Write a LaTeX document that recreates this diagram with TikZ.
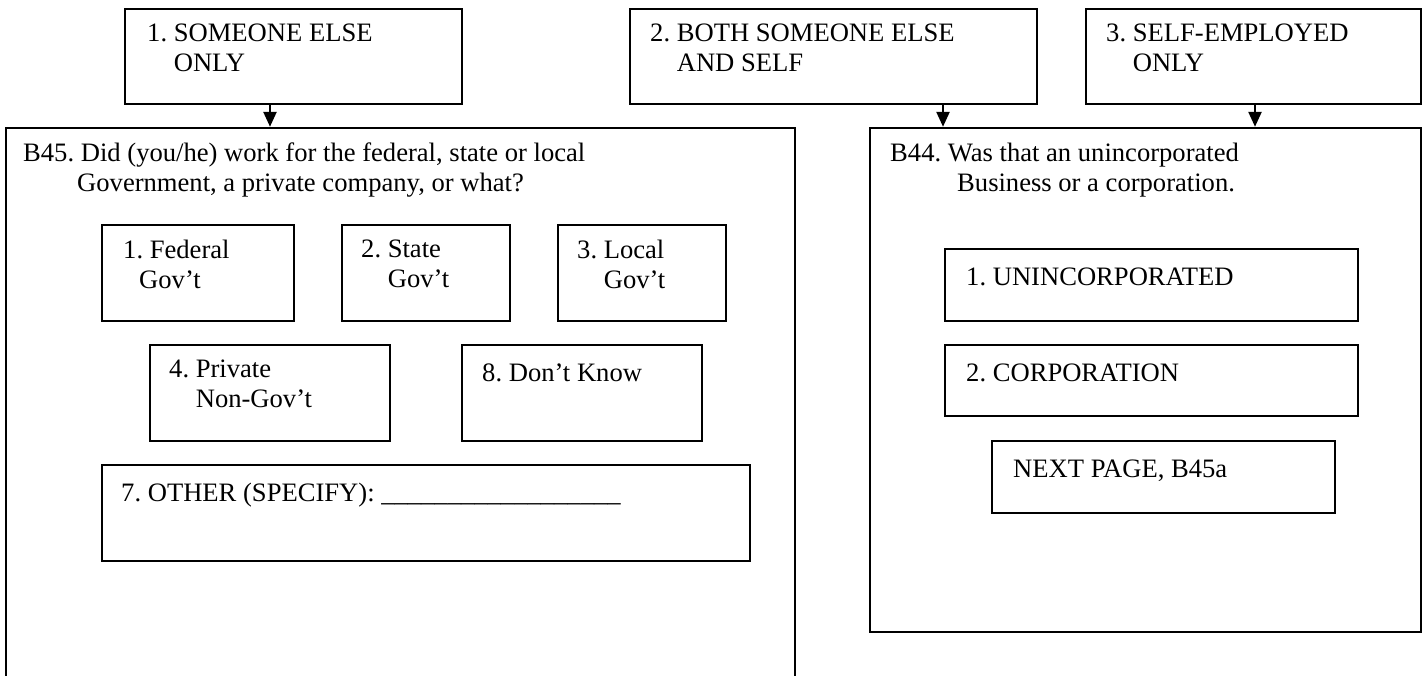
\documentclass[tikz,border=0pt]{standalone}
\usepackage{fontspec}
\setmainfont{Liberation Serif}
\usetikzlibrary{arrows.meta,fit,positioning}

\begin{document}
\begin{tikzpicture}[x=0.5pt,y=-0.5pt,
                box/.style = {draw, line width=1.2pt, inner sep=0pt},
                txt/.style = {anchor=north west, align=left, inner sep=0pt,
                              font=\fontsize{13.3}{15}\selectfont\frenchspacing, execute at begin node=\strut},
                arr/.style = {-{Triangle[width=6.5pt,length=7.5pt]}, line width=1.2pt}]
                \clip (0,0) rectangle (1424,675);
                % top answers
                \node[box, fit={(125,9) (462,104)}] (someone) {};
                \node[box, fit={(630,9) (1037,104)}] (both) {};
                \node[box, fit={(1086,9) (1421,104)}] (self) {};
                % B45 and B44
                \node[box, fit={(6,128) (795,700)}] (gov) {};
                \node[box, fit={(870,128) (1421,632)}] (corp) {};
                \node[box, fit={(102,225) (294,321)}] (federal) {};
                \node[box, fit={(342,225) (510,321)}] (state) {};
                \node[box, fit={(558,225) (726,321)}] (local) {};
                \node[box, fit={(150,345) (390,441)}] (private) {};
                \node[box, fit={(462,345) (702,441)}] (dontknow) {};
                \node[box, fit={(102,465) (750,561)}] (other) {};
                \node[box, fit={(945,249) (1358,321)}] (uninc) {};
                \node[box, fit={(945,345) (1358,416)}] (corporation) {};
                \node[box, fit={(992,441) (1335,513)}] (nextpage) {};
                % texts
                \node[txt] (someoneT) at ([shift={(23,16)}]someone.north west) {1. SOMEONE ELSE\\\phantom{1. }ONLY};
                \node[txt] (bothT) at ([shift={(21,16)}]both.north west) {2. BOTH SOMEONE ELSE\\\phantom{2. }AND SELF};
                \node[txt] (selfT) at ([shift={(21,16)}]self.north west) {3. SELF-EMPLOYED\\\phantom{3. }ONLY};
                \node[txt] (govT) at ([shift={(18,16)}]gov.north west) {B45. Did (you/he) work for the federal, state or local\\\hspace{27pt}Government, a private company, or what?};
                \node[txt] (corpT) at ([shift={(21,16)}]corp.north west) {B44. Was that an unincorporated\\\hspace{33.5pt}Business or a corporation.};
                \node[txt] (federalT) at ([shift={(22,16)}]federal.north west) {1. Federal\\\hspace{8pt}Gov’t};
                \node[txt] (stateT) at ([shift={(20,16)}]state.north west) {2. State\\\phantom{2. }Gov’t};
                \node[txt] (localT) at ([shift={(20,16)}]local.north west) {3. Local\\\phantom{3. }Gov’t};
                \node[txt] (privateT) at ([shift={(20,16)}]private.north west) {4. Private\\\phantom{4. }Non-Gov’t};
                \node[txt] (dontknowT) at ([shift={(21,16)}]dontknow.north west) {8. Don’t Know};
                \node[txt] (otherT) at ([shift={(20,16)}]other.north west) {7. OTHER (SPECIFY): \_\_\_\_\_\_\_\_\_\_\_\_\_\_\_\_\_\_};
                \node[txt] (uncincT) at ([shift={(22,16)}]uninc.north west) {1. UNINCORPORATED};
                \node[txt] (corporationT) at ([shift={(22,16)}]corporation.north west) {2. CORPORATION};
                \node[txt] (nextpageT) at ([shift={(22,16)}]nextpage.north west) {NEXT PAGE, B45a};
                % arrows
                \coordinate (a1) at ([xshift=-11.75pt]someone.south);
                \coordinate (a2) at ([xshift=54.75pt]both.south);
                \coordinate (a3) at ([xshift=0.75pt]self.south);
                \draw[arr] (a1) -- (a1 |- gov.north);
                \draw[arr] (a2) -- (a2 |- corp.north);
                \draw[arr] (a3) -- (a3 |- corp.north);
            \end{tikzpicture}
\end{document}
